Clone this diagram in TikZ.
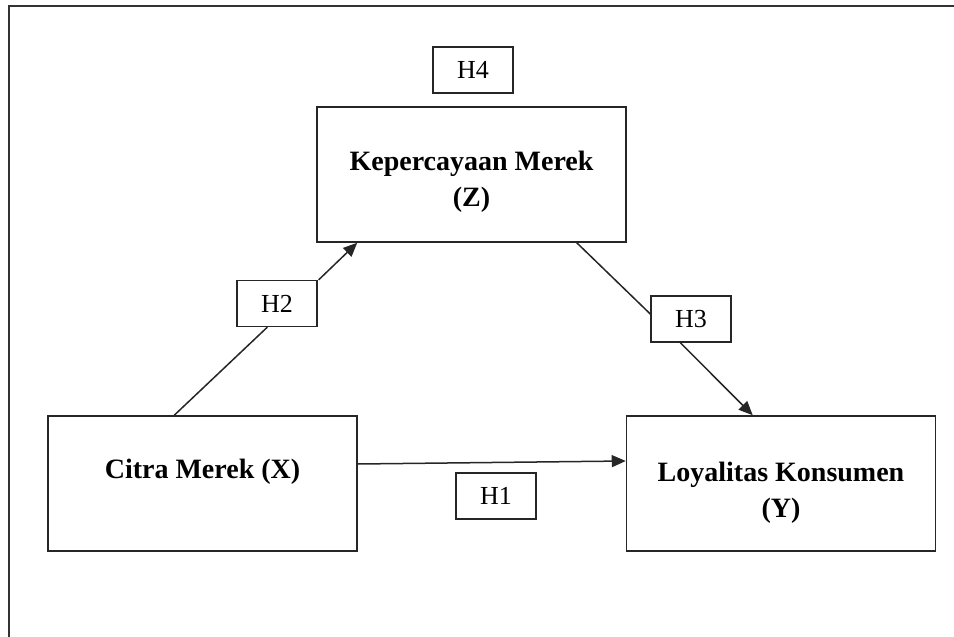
\documentclass[tikz,border=0pt]{standalone}
\usepackage{fontspec}
\setmainfont{Liberation Serif}
\usetikzlibrary{arrows.meta,calc}
\begin{document}
\begin{tikzpicture}[x=1pt,y=-1pt,
  varbox/.style={draw=black!85,line width=1.5pt,minimum width=309pt,minimum height=135pt,inner sep=0pt},
  vartext/.style={font=\fontsize{28}{36}\selectfont\bfseries,align=center,inner sep=0pt},
  hbox/.style={draw=black!85,line width=1.4pt,minimum width=80pt,minimum height=46pt,inner sep=0pt,font=\fontsize{26}{30}\selectfont},
  conn/.style={draw=black!85,line width=1.5pt},
  arr/.style={conn,-{Triangle[length=14pt,width=12pt]}}]
\useasboundingbox (0,0) rectangle (954,637);
% outer frame (cut off at right and bottom)
\coordinate (frameR) at (954,6);
\coordinate (frameTL) at (9,6);
\coordinate (frameB) at (9,637);
\draw[draw=black!80,line width=2.2pt] (frameR) -- (frameTL) -- (frameB);
% variable boxes
\node[varbox] (z) at (471.5,174.5) {};
\node[varbox] (x) at (202.5,483.5) {};
\node[varbox] (y) at (781,483.5) {};
\node[vartext] (zt) at (471.5,182) {Kepercayaan Merek\\(Z)};
\node[vartext] (xt) at (202.5,472) {Citra Merek (X)};
\node[vartext] (yt) at (781,493) {Loyalitas Konsumen\\(Y)};
% hypothesis boxes
\node[hbox] (h4) at (473,70) {H4};
\node[hbox] (h2) at (277,303.5) {H2};
\node[hbox] (h3) at (691,319) {H3};
\node[hbox] (h1) at (496,496) {H1};
% connectors
\draw[arr] ($(x.east)+(0,-19.5)$) -- ($(y.west)+(0,-22.5)$);
\draw[conn] ($(x.north west)+(127,0)$) -- ($(h2.south west)+(31,0)$);
\draw[arr] ($(h2.north east)+(1,0)$) -- ($(z.south west)+(41,0)$);
\draw[conn] ($(z.south east)+(-50,0)$) -- ($(h3.west)+(0,-5)$);
\draw[arr] ($(h3.south west)+(30,0)$) -- ($(y.north west)+(127,0)$);
\end{tikzpicture}
\end{document}
